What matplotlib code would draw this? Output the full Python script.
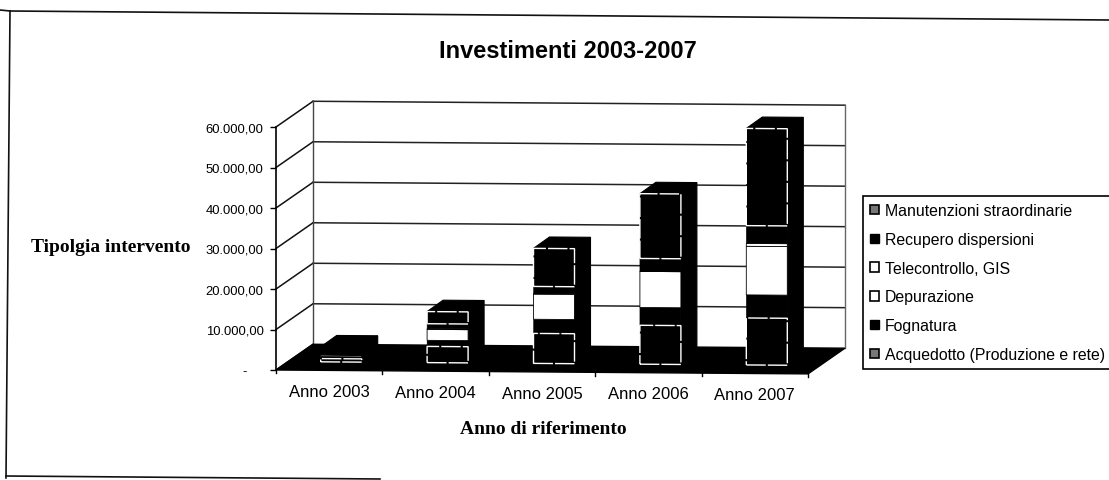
import numpy as np
import matplotlib
matplotlib.use('Agg')
import matplotlib.pyplot as plt
from matplotlib.lines import Line2D
from matplotlib.patches import Patch, Polygon
from matplotlib.transforms import Affine2D

years = ['Anno 2003', 'Anno 2004', 'Anno 2005', 'Anno 2006', 'Anno 2007']
series_names = ['Acquedotto (Produzione e rete)', 'Fognatura', 'Depurazione',
                'Telecontrollo, GIS', 'Recupero dispersioni',
                'Manutenzioni straordinarie']

acquedotto = [800, 4000, 7400, 9600, 11600]
fognatura = [500, 1500, 3500, 4400, 5700]
depurazione = [400, 2700, 6200, 8900, 12000]
telecontrollo = [50, 200, 200, 100, 700]
recupero = [300, 1200, 1700, 3100, 4400]
manutenzioni = [1650, 3000, 9400, 16000, 24000]
all_series = [acquedotto, fognatura, depurazione, telecontrollo, recupero, manutenzioni]

y_ticks = [0, 10000, 20000, 30000, 40000, 50000, 60000]
y_labels = ['-', '10.000,00', '20.000,00', '30.000,00', '40.000,00', '50.000,00', '60.000,00']

W, H = 1109, 481
AX_L, AX_R, AX_B, AX_T = 276, 808, 371, 128   # pixels from top-left

# fake 3D depth, in data units
PX_X = 5.0 / (AX_R - AX_L)
PX_Y = 60000.0 / (AX_B - AX_T)
floor_dx, floor_dy = 37 * PX_X, 26 * PX_Y
gap_dx, gap_dy = 12 * PX_X, 8.5 * PX_Y
bar_dx, bar_dy = 16 * PX_X, 11.5 * PX_Y
bar_w = 41 * PX_X

fig = plt.figure(figsize=(W / 100, H / 100), dpi=100)
ax = fig.add_axes([AX_L / W, (H - AX_B) / H, (AX_R - AX_L) / W, (AX_B - AX_T) / H])
ax.set_xlim(-0.5, 4.5)
ax.set_ylim(0, 60000)
ax.patch.set_visible(False)
for s in ['top', 'right', 'bottom']:
    ax.spines[s].set_visible(False)
ax.spines['left'].set_linewidth(1.2)

# the scan is slightly rotated
tilt = Affine2D().translate(-AX_L, -(H - AX_B)).skew_deg(0, -0.42).translate(AX_L, H - AX_B)
tr = ax.transData + tilt


def poly(points, **kw):
    p = Polygon(points, closed=True, transform=tr, clip_on=False, **kw)
    ax.add_patch(p)


def line(xs, ys, **kw):
    ax.plot(xs, ys, transform=tr, clip_on=False, **kw)


x0, x1 = -0.5, 4.5

# walls and gridlines
for v in y_ticks:
    line([x0, x0 + floor_dx], [v, v + floor_dy], color='#111111', lw=1.1, zorder=1)
    if v > 0:
        line([x0 + floor_dx, x1 + floor_dx], [v + floor_dy, v + floor_dy],
             color='#222222', lw=1.1, zorder=1)
line([x0 + floor_dx, x0 + floor_dx], [floor_dy, 60000 + floor_dy], color='#444444', lw=1, zorder=1)
line([x1 + floor_dx, x1 + floor_dx], [floor_dy, 60000 + floor_dy], color='#666666', lw=1, zorder=1)

# floor
poly([(x0, 0), (x1, 0), (x1 + floor_dx, floor_dy), (x0 + floor_dx, floor_dy)],
     facecolor='black', edgecolor='black', lw=1, zorder=2)

# bars
for i in range(len(years)):
    left = i - bar_w / 2 + gap_dx
    right = left + bar_w
    bottom = gap_dy
    total = sum(s[i] for s in all_series)
    # side and top faces
    poly([(right, bottom), (right + bar_dx, bottom + bar_dy),
          (right + bar_dx, bottom + total + bar_dy), (right, bottom + total)],
         facecolor='black', edgecolor='black', lw=0.8, zorder=3)
    poly([(left, bottom + total), (right, bottom + total),
          (right + bar_dx, bottom + total + bar_dy), (left + bar_dx, bottom + total + bar_dy)],
         facecolor='black', edgecolor='black', lw=0.8, zorder=3)
    for k, s in enumerate(all_series):
        if k == 0 or (k == 5 and s[i] > 2000):
            face, edge, ls, lw = 'black', 'white', (0, (14, 1.5)), 1.0
        elif k in (2, 3):
            face, edge, ls, lw = 'white', 'black', '-', 0.6
        else:
            face, edge, ls, lw = 'black', 'black', '-', 0.3
        b = ax.bar(i + gap_dx, s[i], width=bar_w, bottom=bottom, facecolor=face,
                   edgecolor=edge, linestyle=ls, linewidth=lw, zorder=4 + (k in (0, 5)))
        for p in b:
            p.set_transform(tr)
            p.set_clip_on(False)
        bottom += s[i]

# small ticks between the categories
for b in np.arange(-0.5, 5.0):
    line([b, b], [0, -800], color='black', lw=1, zorder=2)

ax.set_xticks(range(len(years)))
ax.set_xticklabels(years, fontsize=12, family='Liberation Sans')
ax.tick_params(axis='x', length=0)
for i, t in enumerate(ax.xaxis.get_major_ticks()):
    t.set_pad(10 + 0.6 * i)
ax.set_yticks(y_ticks)
ax.set_yticklabels(y_labels, fontsize=9.4, family='Liberation Sans')
ax.tick_params(axis='y', length=4, width=1, pad=5)
ax.yaxis.get_major_ticks()[0].set_pad(17)

fig.text(568 / W, 1 - 52 / H, 'Investimenti 2003-2007', ha='center', va='center',
         fontsize=17, fontweight='bold', family='Liberation Sans')
fig.text(111 / W, 1 - 248 / H, 'Tipolgia intervento', ha='center', va='center',
         fontsize=14, fontweight='bold', family='Liberation Serif')
fig.text(543 / W, 1 - 430 / H, 'Anno di riferimento', ha='center', va='center',
         fontsize=14, fontweight='bold', family='Liberation Serif')

# legend, top entry first
styles = [dict(facecolor='#777777', edgecolor='black', linewidth=1.2),
          dict(facecolor='black', edgecolor='black'),
          dict(facecolor='white', edgecolor='black', linewidth=1.2),
          dict(facecolor='white', edgecolor='black', linewidth=1.2),
          dict(facecolor='black', edgecolor='black'),
          dict(facecolor='#777777', edgecolor='black', linewidth=1.2)]
handles = [Patch(label=n, **st) for n, st in zip(series_names[::-1], styles)]
leg = fig.legend(handles=handles, loc='upper left',
                 bbox_to_anchor=(863 / W, 1 - 197 / H), bbox_transform=fig.transFigure,
                 prop={'family': 'Liberation Sans', 'size': 11.4}, fancybox=False,
                 edgecolor='black', framealpha=1, handlelength=0.55, handleheight=0.55,
                 handletextpad=0.4, labelspacing=0.87, borderpad=0.45, borderaxespad=0)
leg.get_frame().set_linewidth(1.2)

# page frame of the scan, only partly visible
for xs, ys in [((0, 10), (11, 12)), ((10, W), (12, 21)), ((10, 6), (12, 479)), ((6, 380), (477, 480))]:
    fig.add_artist(Line2D([x / W for x in xs], [1 - y / H for y in ys], color='#111111', lw=1.2))

fig.savefig('out.png', dpi=100)
